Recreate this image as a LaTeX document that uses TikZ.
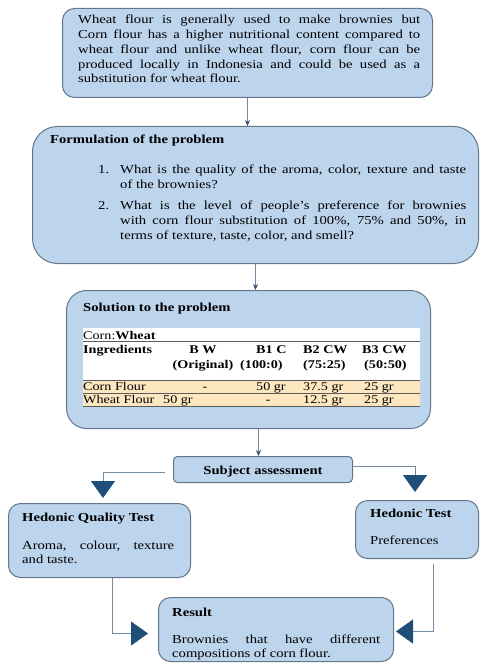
\documentclass[tikz,border=0pt]{standalone}
\usepackage{fontspec}
\setmainfont{Liberation Serif}[FakeStretch=1.2]
\usetikzlibrary{arrows.meta,calc}
\definecolor{boxfill}{RGB}{189,212,237}
\definecolor{boxline}{RGB}{100,118,138}
\definecolor{connline}{RGB}{118,138,162}
\definecolor{tipdark}{RGB}{55,75,105}
\definecolor{bigtipc}{RGB}{31,78,121}
\definecolor{rowfill}{RGB}{252,231,192}
\definecolor{tabline}{RGB}{90,90,90}
\newcommand{\bodyfont}{\fontsize{12.2}{14.7}\selectfont}
\newcommand{\tabfont}{\fontsize{11.8}{13}\selectfont}
\newcommand{\jline}[2]{\makebox[#1][s]{#2}}
\newcommand{\para}[2]{\parbox[t]{#1}{\bodyfont\raggedright #2}}
\begin{document}
\begin{tikzpicture}[x=1pt,y=-1pt,
  box/.style={draw=boxline, fill=boxfill, line width=1pt, inner sep=0pt, anchor=north west},
  txt/.style={anchor=base west, inner sep=0pt, font=\bodyfont},
  tb/.style={inner sep=0pt, font=\tabfont},
  conn/.style={draw=connline, line width=0.8pt},
  smalltip/.style={-{Stealth[length=6pt,width=5pt,color=tipdark]}},
  bigtip/.style={-{Triangle[length=17pt,width=24pt,color=bigtipc]}},
  tabrule/.style={draw=tabline, line width=0.6pt}
]
\useasboundingbox (0,0) rectangle (479,668);

% boxes
\node[box, minimum width=370pt, minimum height=89pt, rounded corners=12pt] (b1) at (62,8) {};
\node[box, minimum width=446pt, minimum height=137pt, rounded corners=25pt] (b2) at (32,126) {};
\node[box, minimum width=364pt, minimum height=138pt, rounded corners=20pt] (b3) at (66,290) {};
\node[box, minimum width=179pt, minimum height=26pt, rounded corners=4pt] (sa) at (173,456) {};
\node[box, minimum width=182pt, minimum height=74pt, rounded corners=12pt] (hq) at (8,503) {};
\node[box, minimum width=123pt, minimum height=58pt, rounded corners=12pt] (ht) at (355,500) {};
\node[box, minimum width=235pt, minimum height=64pt, rounded corners=12pt] (res) at (158,597) {};

% box 1 text
\node[txt] (t1) at (78,24) {\para{342pt}{%
\jline{342pt}{Wheat flour is generally used to make brownies but}\\
\jline{342pt}{Corn flour has a higher nutritional content compared to}\\
\jline{342pt}{wheat flour and unlike wheat flour, corn flour can be}\\
\jline{342pt}{produced locally in Indonesia and could be used as a}\\
substitution for wheat flour.}};

% box 2 text
\node[txt] (t2) at (50,144) {\bfseries Formulation of the problem};
\node[txt] (n1) at (98,174) {1.};
\node[txt] (i1) at (120,174) {\para{346pt}{%
\jline{346pt}{What is the quality of the aroma, color, texture and taste}\\
of the brownies?}};
\node[txt] (n2) at (98,210) {2.};
\node[txt] (i2) at (120,210) {\para{346pt}{%
\jline{346pt}{What is the level of people's preference for brownies}\\
\jline{346pt}{with corn flour substitution of 100\%, 75\% and 50\%, in}\\
terms of texture, taste, color, and smell?}};

% box 3 text and table
\node[txt] (t3) at (83,311) {\bfseries Solution to the problem};
\fill[white] (83,328) rectangle (420,380);
\fill[rowfill] (83,380) rectangle (420,406);
\draw[tabrule] (83,341.5) -- (420,341.5);
\draw[tabrule] (83,380) -- (420,380);
\draw[tabrule] (83,393) -- (420,393);
\draw[tabrule] (83,406) -- (420,406);
\node[tb, anchor=base west] (c0) at (83,339) {Corn:\textbf{Wheat}};
\node[tb, anchor=base west] (h1) at (83,353) {\bfseries Ingredients};
\node[tb, anchor=base] (h2) at (203,353) {\bfseries B W};
\node[tb, anchor=base] (h2b) at (203,368) {\bfseries (Original)};
\node[tb, anchor=base west] (h3) at (256,353) {\bfseries B1 C};
\node[tb, anchor=base west] (h3b) at (240,368) {\bfseries (100:0)};
\node[tb, anchor=base west] (h4) at (303,353) {\bfseries B2 CW};
\node[tb, anchor=base west] (h4b) at (303,368) {\bfseries (75:25)};
\node[tb, anchor=base west] (h5) at (362,353) {\bfseries B3 CW};
\node[tb, anchor=base west] (h5b) at (364,368) {\bfseries (50:50)};
\node[tb, anchor=base west] (r1a) at (83,390) {Corn Flour};
\node[tb, anchor=base] (r1b) at (205,390) {-};
\node[tb, anchor=base west] (r1c) at (256,390) {50 gr};
\node[tb, anchor=base west] (r1d) at (303,390) {37.5 gr};
\node[tb, anchor=base west] (r1e) at (364,390) {25 gr};
\node[tb, anchor=base west] (r2a) at (83,403) {Wheat Flour};
\node[tb, anchor=base west] (r2b) at (163,403) {50 gr};
\node[tb, anchor=base] (r2c) at (268,403) {-};
\node[tb, anchor=base west] (r2d) at (303,403) {12.5 gr};
\node[tb, anchor=base west] (r2e) at (364,403) {25 gr};

% subject assessment
\node[inner sep=0pt, font=\bodyfont\bfseries, anchor=base] (sat) at ($(sa.center)+(0,4.5)$) {Subject assessment};

% hedonic quality test
\node[txt] (hqt) at (22,521) {\bfseries Hedonic Quality Test};
\node[txt] (hqb) at (22,549) {\para{152pt}{\jline{152pt}{Aroma, colour, texture}\\and taste.}};

% hedonic test
\node[txt] (htt) at (370,517) {\bfseries Hedonic Test};
\node[txt] (htb) at (370,544) {Preferences};

% result
\node[txt] (rt) at (172,616) {\bfseries Result};
\node[txt] (rb) at (172,643) {\para{208pt}{\jline{208pt}{Brownies that have different}\\compositions of corn flour.}};

% connectors
\draw[conn, smalltip] (b1.south) -- (b1.south |- b2.north);
\draw[conn, smalltip] (b2.south) -- (b2.south |- b3.north);
\coordinate (sain) at ([xshift=-4.5pt]sa.north);
\draw[conn, smalltip] (sain |- b3.south) -- (sain);

\coordinate (hqin) at (103,498);
\coordinate (htin) at (415,492);
\draw[conn, bigtip] ([xshift=-8pt,yshift=-3pt]sa.west) -| (hqin);
\draw[conn, bigtip] ([yshift=3pt]sa.east) -| (htin);

\coordinate (resL) at ([xshift=-10pt,yshift=-4pt]res.west);
\coordinate (resR) at ([xshift=2pt,yshift=-2pt]res.east);
\draw[conn, bigtip] ([xshift=13pt]hq.south) |- (resL);
\draw[conn, bigtip] ([xshift=16.5pt,yshift=-5pt]ht.south) |- (resR);
\end{tikzpicture}
\end{document}
